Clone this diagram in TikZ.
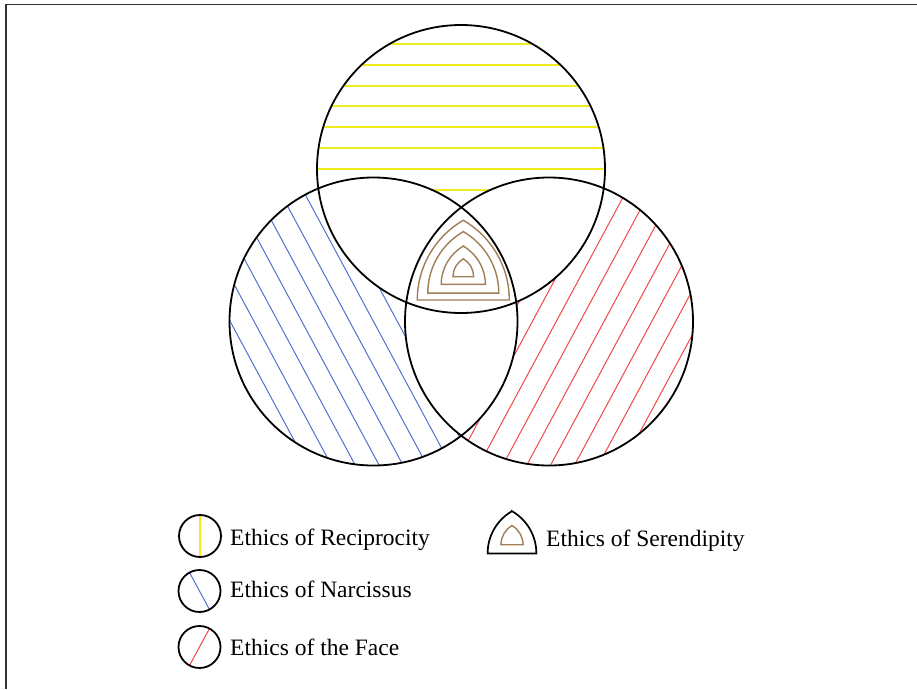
\documentclass[tikz,border=0pt]{standalone}
\usepackage{fontspec}
\setmainfont{Liberation Serif}
\usepackage{xcolor}
\usepackage{tikz}
\usetikzlibrary{calc}
\definecolor{recipyellow}{RGB}{240,236,30}
\definecolor{narcblue}{RGB}{82,112,212}
\definecolor{facered}{RGB}{242,72,72}
\definecolor{serenbrown}{RGB}{160,126,86}
\tikzset{
  pageframe/.style  = {draw=black!80, line width=1.6pt},
  ring/.style       = {draw=black, line width=1.8pt},
  recip/.style      = {draw=recipyellow, line width=1.8pt},
  narc/.style       = {draw=narcblue, line width=1pt},
  face/.style       = {draw=facered, line width=1pt},
  seren/.style      = {draw=serenbrown, line width=1.4pt},
  legtext/.style    = {anchor=base west, inner sep=0pt,
                       font=\fontsize{23.5}{28}\selectfont},
  serenshape/.pic   = {\draw[pic actions] (0,-49.7) .. controls (-28.5,-33.2) and (-46,-2.9) .. (-46,30)
                        -- (46,30) .. controls (46,-2.9) and (28.5,-33.2) .. cycle;},
}

\begin{document}
\begin{tikzpicture}[x=1pt, y=-1pt]
  \useasboundingbox (0,0) rectangle (917,689);
  \coordinate (tc) at (461,169);
  \coordinate (lc) at (373.5,321.5);
  \coordinate (rc) at (549,321.5);
  \coordinate (sc) at (463.3,270);
  \draw[pageframe] (6,689) |- (917,4.5);

  % hatching of the three circles
  \begin{scope}
    \clip (tc) circle (144);
    \foreach \y in {44,65,86,106,127,148,169,190}
      \draw[recip] (300,\y) -- (620,\y);
  \end{scope}
  \begin{scope}
    \clip (lc) circle (144);
    \foreach \k in {-8,...,8}
      \draw[narc] ($(lc)+(18.5*\k,-10*\k)+(-71,-132)$) -- ++(142,264);
  \end{scope}
  \begin{scope}
    \clip (rc) circle (144);
    \foreach \k in {-8,...,8}
      \draw[face] ($(rc)+(18.5*\k,10*\k)+(5.6,3)+(71,-132)$) -- ++(-142,264);
  \end{scope}

  % overlaps left blank
  \begin{scope}
    \clip (tc) circle (144);
    \fill[white] (lc) circle (144);
    \fill[white] (rc) circle (144);
  \end{scope}
  \begin{scope}
    \clip (lc) circle (144);
    \fill[white] (rc) circle (144);
  \end{scope}

  \foreach \s in {1,0.772,0.48,0.225}
    \pic[seren, scale=\s] at (sc) {serenshape};

  \draw[ring] (tc) circle (144);
  \draw[ring] (lc) circle (144);
  \draw[ring] (rc) circle (144);

  % legend
  \coordinate (ky) at (200,536);
  \coordinate (kb) at (199.5,591);
  \coordinate (kr) at (199.5,647);
  \coordinate (ks) at (512,537.5);
  \draw[recip] ($(ky)+(0,-21)$) -- ($(ky)+(0,21)$);
  \draw[narc] ($(kb)+(-10,-18.5)$) -- ($(kb)+(10,18.5)$);
  \draw[face] ($(kr)+(10,-18.5)$) -- ($(kr)+(-10,18.5)$);
  \draw[ring] (ky) circle (21);
  \draw[ring] (kb) circle (21);
  \draw[ring] (kr) circle (21);
  \pic[draw=black, line width=1.7pt, scale=0.53] at (ks) {serenshape};
  \pic[seren, scale=0.24] at (ks) {serenshape};

  \node[legtext] (lrecip) at (230,545.5) {Ethics of Reciprocity};
  \node[legtext] (lnarc)  at (230,597)   {Ethics of Narcissus};
  \node[legtext] (lface)  at (230,655)   {Ethics of the Face};
  \node[legtext] (lseren) at (546,546.5) {Ethics of Serendipity};
\end{tikzpicture}
\end{document}
